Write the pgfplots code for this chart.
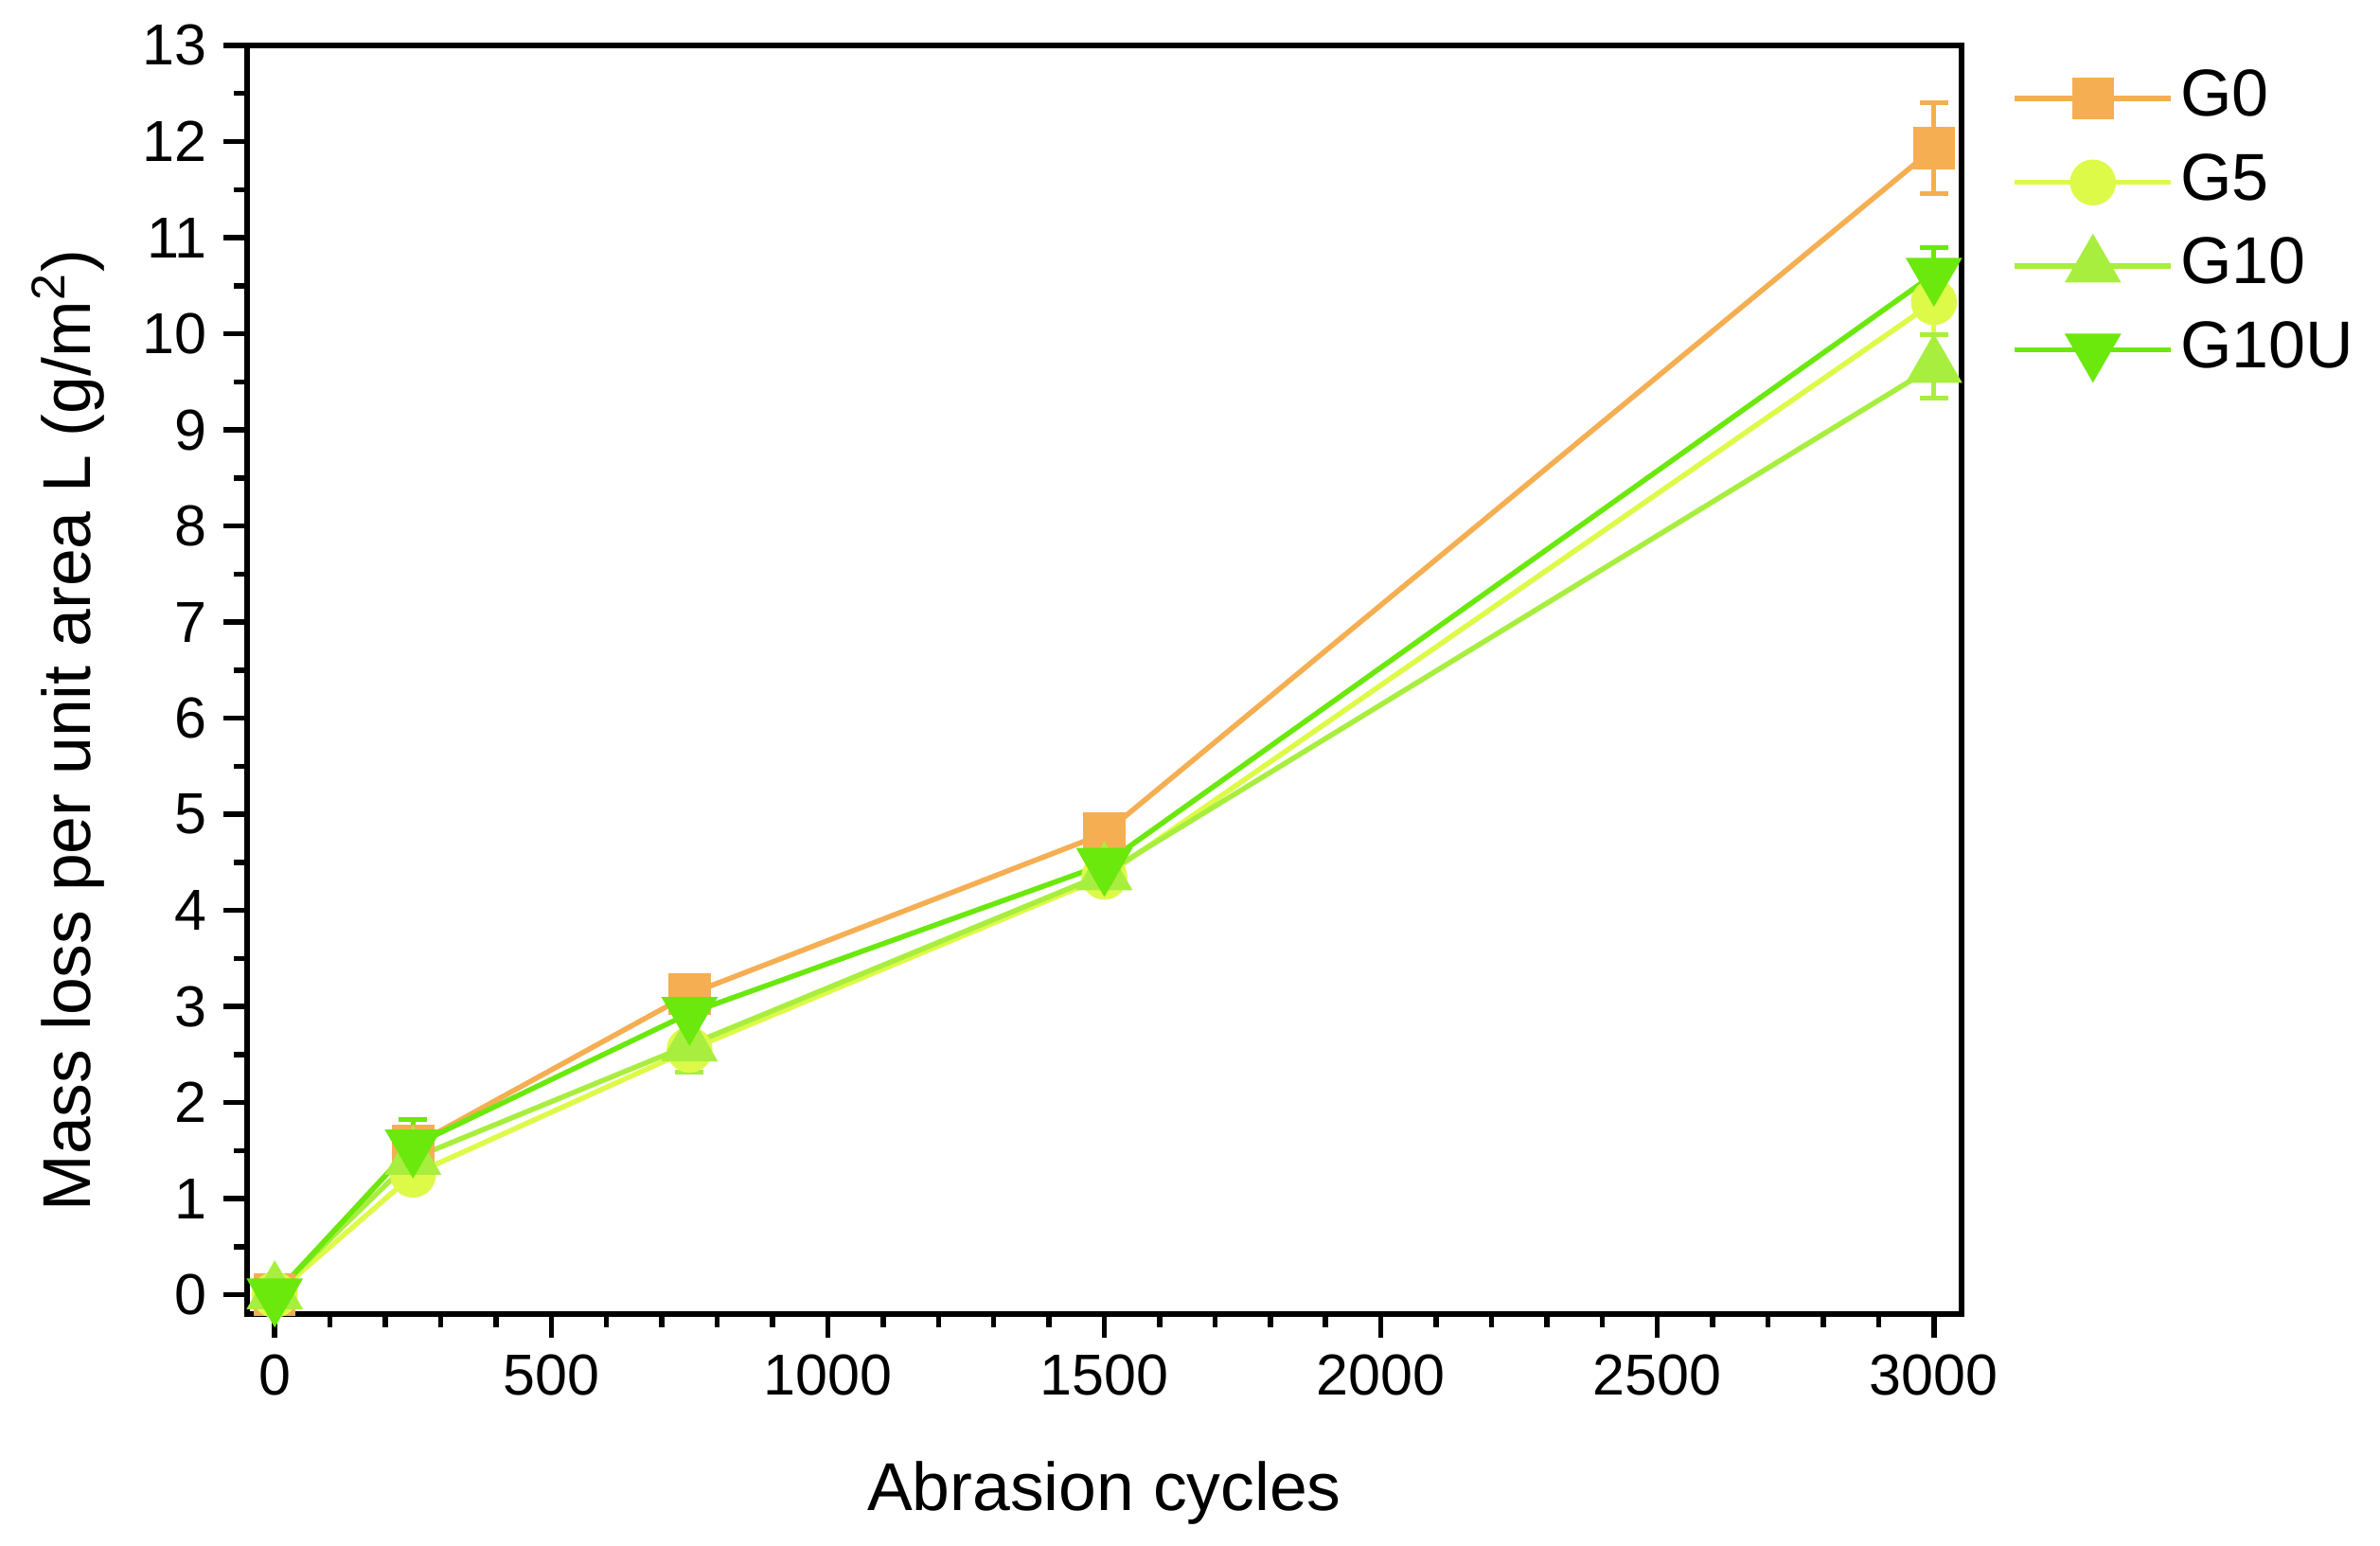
\documentclass[border=0pt]{standalone}
\usepackage{pgfplots}
\pgfplotsset{compat=1.18}
\usepackage{pgfplotstable}
\usepackage{fontspec}
\setmainfont{Liberation Sans}
\definecolor{cG0}{RGB}{245,174,82}
\definecolor{cG5}{RGB}{222,250,72}
\definecolor{cG10}{RGB}{168,238,62}
\definecolor{cG10U}{RGB}{107,232,12}
\pgfplotstableread{
x y e
0 0 0
250 1.55 0.07
750 3.13 0.12
1500 4.80 0.08
3000 11.93 0.47
}\tGzero
\pgfplotstableread{
x y e
0 0 0
250 1.25 0.15
750 2.55 0.10
1500 4.35 0.10
3000 10.33 0.34
}\tGfive
\pgfplotstableread{
x y e
0 0.02 0.05
250 1.42 0.10
750 2.60 0.28
1500 4.38 0.15
3000 9.66 0.33
}\tGten
\pgfplotstableread{
x y e
0 0 0
250 1.55 0.27
750 2.93 0.28
1500 4.48 0.27
3000 10.62 0.28
}\tGtenU
\begin{document}
\begin{tikzpicture}
\useasboundingbox (-52.2pt,-48.8pt) rectangle (450.6pt,277.6pt);
\begin{axis}[
  at={(0,0)}, anchor=south west,
  scale only axis, width=362.2pt, height=268pt,
  xmin=-50, xmax=3050, ymin=-0.2, ymax=13,
  xtick={0,500,...,3000}, minor x tick num=4,
  ytick={0,1,...,13}, minor y tick num=1,
  tick pos=left, tick align=outside,
  major tick length=5pt, minor tick length=2.7pt,
  axis line style={line width=1.2pt},
  every tick/.style={line width=1.1pt, black},
  /pgf/number format/assume math mode=true,
  /pgf/number format/1000 sep={},
  tick label style={font=\fontsize{12.2}{14}\selectfont},
  xlabel={Abrasion cycles},
  ylabel={Mass loss per unit area L (g/m\textsuperscript{2})},
  label style={font=\fontsize{14.3}{16}\selectfont},
  xlabel style={at={(axis description cs:0.5,0)}, anchor=base, yshift=-41.4pt},
  ylabel style={at={(axis description cs:-0.1044,0.46)}, anchor=center},
  legend style={draw=none, fill=none, at={(rel axis cs:1,1)}, anchor=north west,
    xshift=7.5pt, yshift=-1.3pt, font=\fontsize{14}{16}\selectfont,
    row sep=2.2pt, nodes={inner sep=1.5pt, text height=10pt, text depth=2.5pt}},
  legend cell align=left,
  legend image code/.code={\draw[mark repeat=2,mark phase=2] plot coordinates {(0pt,0pt) (16.5pt,0pt) (33pt,0pt)};},
  error bars/error bar style={line width=1pt},
]
\addplot[cG0, line width=1.1pt, mark=square*, mark size=3.9pt, mark options={fill=cG0, draw=cG0},
  error bars/.cd, y dir=both, y explicit, error mark options={rotate=90, mark size=3pt, line width=1pt, cG0}]
  table[x=x, y=y, y error=e] {\tGzero};
\addlegendentry{G0}
\addplot[cG5, line width=1.1pt, mark=*, mark size=4.3pt, mark options={fill=cG5, draw=cG5},
  error bars/.cd, y dir=both, y explicit, error mark options={rotate=90, mark size=3pt, line width=1pt, cG5}]
  table[x=x, y=y, y error=e] {\tGfive};
\addlegendentry{G5}
\addplot[cG10, line width=1.1pt, mark=triangle*, mark size=5.8pt, mark options={fill=cG10, draw=cG10},
  error bars/.cd, y dir=both, y explicit, error mark options={rotate=90, mark size=3pt, line width=1pt, cG10}]
  table[x=x, y=y, y error=e] {\tGten};
\addlegendentry{G10}
\addplot[cG10U, line width=1.1pt, mark=triangle*, mark size=5.8pt, mark options={fill=cG10U, draw=cG10U, rotate=180},
  error bars/.cd, y dir=both, y explicit, error mark options={rotate=90, mark size=3pt, line width=1pt, cG10U}]
  table[x=x, y=y, y error=e] {\tGtenU};
\addlegendentry{G10U}
\end{axis}
\end{tikzpicture}
\end{document}
